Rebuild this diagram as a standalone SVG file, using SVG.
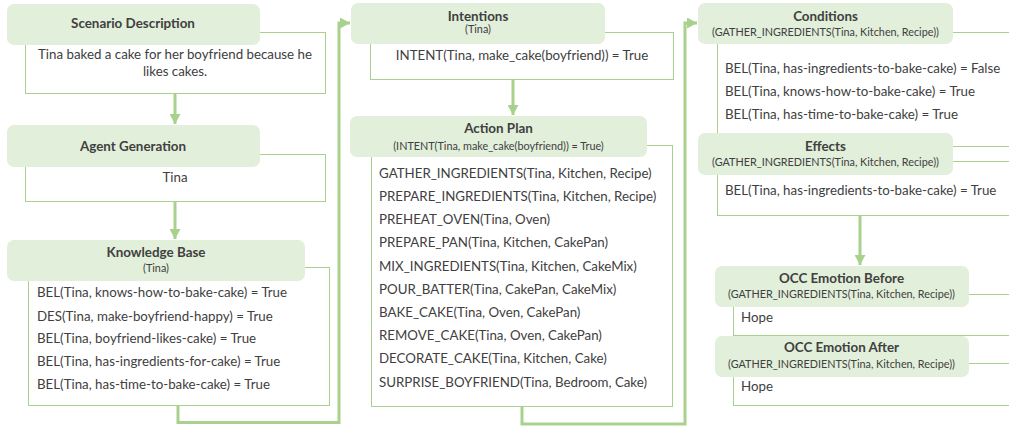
<svg xmlns="http://www.w3.org/2000/svg" width="1009" height="427" viewBox="0 0 1009 427">
<defs>
<marker id="arr" markerUnits="userSpaceOnUse" markerWidth="11" markerHeight="11" refX="10" refY="5.5" orient="auto">
<path d="M0,0 L10,5.5 L0,11 z" fill="#a9d18e"/>
</marker>
<style>
.hdr{fill:#e2efda;stroke:none}
.body{fill:#ffffff;stroke:#a9d18e;stroke-width:1}
.t{font-family:"Lato","Open Sans","Liberation Sans",sans-serif;fill:#404040;font-size:13.3px}
.ti{font-family:"Lato","Open Sans","Liberation Sans",sans-serif;fill:#404040;font-size:13.4px;font-weight:bold;text-anchor:middle}
.st{font-family:"Lato","Open Sans","Liberation Sans",sans-serif;fill:#404040;font-size:10.8px;text-anchor:middle}
.c{text-anchor:middle}
.con{fill:none;stroke:#a9d18e;stroke-width:3}
</style>
</defs>
<rect width="1009" height="427" fill="#ffffff"/>

<g id="connectors">
<path class="con" d="M175,93 V124" marker-end="url(#arr)"/>
<path class="con" d="M175,201 V239" marker-end="url(#arr)"/>
<path class="con" d="M178,405 V422.5 H339 V23 H350" marker-end="url(#arr)"/>
<path class="con" d="M513,79 V115" marker-end="url(#arr)"/>
<path class="con" d="M522,406 V424 H685 V23 H697" marker-end="url(#arr)"/>
<path class="con" d="M860,215 V265" marker-end="url(#arr)"/>
</g>

<g id="scenario">
<rect class="body" x="25.5" y="32.5" width="300" height="61"/>
<rect class="hdr" x="7" y="4" width="253" height="41" rx="7"/>
<text class="ti" x="133" y="28">Scenario Description</text>
<text class="t c" x="175" y="58.5">Tina baked a cake for her boyfriend because he</text>
<text class="t c" x="175" y="75.5">likes cakes.</text>
</g>

<g id="agent">
<rect class="body" x="25.5" y="154.5" width="300" height="47"/>
<rect class="hdr" x="7" y="125" width="253" height="42" rx="7"/>
<text class="ti" x="133" y="150.5">Agent Generation</text>
<text class="t c" x="175" y="181.5">Tina</text>
</g>

<g id="knowledge-base">
<rect class="body" x="28.5" y="267.5" width="301" height="138"/>
<rect class="hdr" x="7" y="240" width="298" height="41" rx="7"/>
<text class="ti" x="156" y="257">Knowledge Base</text>
<text class="st" x="156" y="272">(Tina)</text>
<text class="t" x="37" y="296.5">BEL(Tina, knows-how-to-bake-cake) = True</text>
<text class="t" x="37" y="320.5">DES(Tina, make-boyfriend-happy) = True</text>
<text class="t" x="37" y="342.5">BEL(Tina, boyfriend-likes-cake) = True</text>
<text class="t" x="37" y="365.5">BEL(Tina, has-ingredients-for-cake) = True</text>
<text class="t" x="37" y="388.5">BEL(Tina, has-time-to-bake-cake) = True</text>
</g>

<g id="intentions">
<rect class="body" x="370.5" y="32.5" width="303" height="47"/>
<rect class="hdr" x="351" y="3" width="254" height="41" rx="7"/>
<text class="ti" x="478" y="21">Intentions</text>
<text class="st" x="478" y="33">(Tina)</text>
<text class="t c" x="522" y="59.5">INTENT(Tina, make_cake(boyfriend)) = True</text>
</g>

<g id="action-plan">
<rect class="body" x="371.5" y="145.5" width="301" height="261"/>
<rect class="hdr" x="350" y="116" width="297" height="41" rx="7"/>
<text class="ti" x="498.5" y="133">Action Plan</text>
<text class="st" x="498.5" y="150">(INTENT(Tina, make_cake(boyfriend)) = True)</text>
<text class="t" x="379" y="177.5">GATHER_INGREDIENTS(Tina, Kitchen, Recipe)</text>
<text class="t" x="379" y="200.5">PREPARE_INGREDIENTS(Tina, Kitchen, Recipe)</text>
<text class="t" x="379" y="223.5">PREHEAT_OVEN(Tina, Oven)</text>
<text class="t" x="379" y="246.5">PREPARE_PAN(Tina, Kitchen, CakePan)</text>
<text class="t" x="379" y="270.5">MIX_INGREDIENTS(Tina, Kitchen, CakeMix)</text>
<text class="t" x="379" y="293.5">POUR_BATTER(Tina, CakePan, CakeMix)</text>
<text class="t" x="379" y="316.5">BAKE_CAKE(Tina, Oven, CakePan)</text>
<text class="t" x="379" y="339.5">REMOVE_CAKE(Tina, Oven, CakePan)</text>
<text class="t" x="379" y="362.5">DECORATE_CAKE(Tina, Kitchen, Cake)</text>
<text class="t" x="379" y="386.5">SURPRISE_BOYFRIEND(Tina, Bedroom, Cake)</text>
</g>

<g id="conditions">
<rect class="body" x="717.5" y="32.5" width="310" height="114"/>
<rect class="hdr" x="698" y="3" width="255" height="41" rx="7"/>
<text class="ti" x="825.5" y="21">Conditions</text>
<text class="st" x="825.5" y="36">(GATHER_INGREDIENTS(Tina, Kitchen, Recipe))</text>
<text class="t" x="725" y="72.5">BEL(Tina, has-ingredients-to-bake-cake) = False</text>
<text class="t" x="725" y="95.5">BEL(Tina, knows-how-to-bake-cake) = True</text>
<text class="t" x="725" y="118.5">BEL(Tina, has-time-to-bake-cake) = True</text>
</g>

<g id="effects">
<rect class="body" x="717.5" y="161.5" width="310" height="54"/>
<rect class="hdr" x="698" y="133" width="255" height="42" rx="7"/>
<text class="ti" x="825.5" y="151">Effects</text>
<text class="st" x="825.5" y="166">(GATHER_INGREDIENTS(Tina, Kitchen, Recipe))</text>
<text class="t" x="725" y="194.5">BEL(Tina, has-ingredients-to-bake-cake) = True</text>
</g>

<g id="occ-before">
<rect class="body" x="733.5" y="294.5" width="300" height="41"/>
<rect class="hdr" x="715" y="266" width="254" height="41" rx="7"/>
<text class="ti" x="841.5" y="283">OCC Emotion Before</text>
<text class="st" x="841.5" y="297.5">(GATHER_INGREDIENTS(Tina, Kitchen, Recipe))</text>
<text class="t" x="741" y="321.5">Hope</text>
</g>

<g id="occ-after">
<rect class="body" x="733.5" y="363.5" width="300" height="42"/>
<rect class="hdr" x="715" y="336" width="254" height="41" rx="7"/>
<text class="ti" x="841.5" y="352">OCC Emotion After</text>
<text class="st" x="841.5" y="367.5">(GATHER_INGREDIENTS(Tina, Kitchen, Recipe))</text>
<text class="t" x="741" y="390.5">Hope</text>
</g>
</svg>
